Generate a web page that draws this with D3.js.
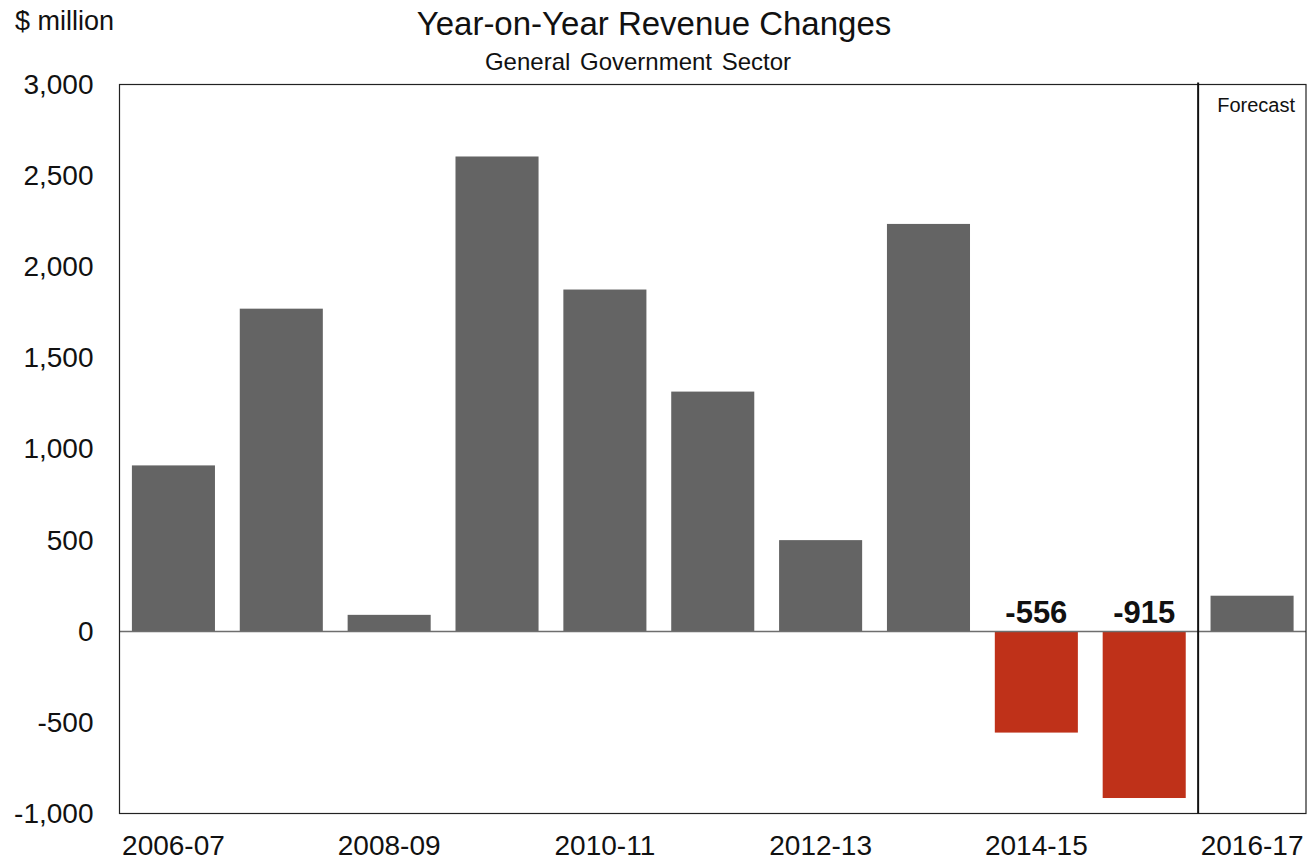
<!DOCTYPE html>
<html>
<head>
<meta charset="utf-8">
<script src="https://cdn.jsdelivr.net/npm/d3@7/dist/d3.min.js"></script>
<style>
  html, body { margin: 0; padding: 0; background: #fff; }
  svg { display: block; font-family: "Liberation Sans", Arial, sans-serif; }
</style>
</head>
<body>
<svg id="chart" width="1308" height="860"></svg>
<script>
// Financial years shown on the category axis
const years = ["2006-07", "2007-08", "2008-09", "2009-10", "2010-11", "2011-12",
               "2012-13", "2013-14", "2014-15", "2015-16", "2016-17"];
// Year-on-year change in revenue, $ million
const revenueChange = [910, 1770, 90, 2605, 1875, 1315, 500, 2235, -556, -915, 195];
// Years that carry a printed value label
const labelledYears = ["2014-15", "2015-16"];
// First forecast year
const forecastStart = "2016-17";
// Axis ticks
const yTicks = [-1000, -500, 0, 500, 1000, 1500, 2000, 2500, 3000];
const xTickLabels = ["2006-07", "2008-09", "2010-11", "2012-13", "2014-15", "2016-17"];

const data = years.map((y, i) => ({ year: y, value: revenueChange[i] }));

// Number formats using a plain hyphen for negatives
const locale = d3.formatLocale({ decimal: ".", thousands: ",", grouping: [3], currency: ["$", ""], minus: "-" });
const fmtComma = locale.format(",");
const fmtInt = locale.format("d");

const svg = d3.select("#chart");
const plot = { left: 119.5, right: 1306, top: 84.5, bottom: 813.5 };

const x = d3.scaleBand()
  .domain(years)
  .range([plot.left, plot.right])
  .paddingInner(0.23)
  .paddingOuter(0.115);

const y = d3.scaleLinear()
  .domain([-1000, 3000])
  .range([plot.bottom, plot.top]);

const grey = "#646464";
const red = "#bf3119";

// Bars
svg.append("g")
  .selectAll("rect")
  .data(data)
  .join("rect")
  .attr("x", d => x(d.year))
  .attr("width", x.bandwidth())
  .attr("y", d => y(Math.max(0, d.value)))
  .attr("height", d => Math.abs(y(d.value) - y(0)))
  .attr("fill", d => d.value < 0 ? red : grey);

// Zero line
svg.append("line")
  .attr("x1", plot.left).attr("x2", plot.right)
  .attr("y1", Math.round(y(0)) + 0.5).attr("y2", Math.round(y(0)) + 0.5)
  .attr("stroke", "#6e6e6e").attr("stroke-width", 1.5);

// Plot frame
svg.append("rect")
  .attr("x", plot.left).attr("y", plot.top)
  .attr("width", plot.right - plot.left)
  .attr("height", plot.bottom - plot.top)
  .attr("fill", "none").attr("stroke", "#222").attr("stroke-width", 1.2);

// Forecast divider
const fx = x(forecastStart) - x.step() * x.paddingInner() / 2;
svg.append("line")
  .attr("x1", fx).attr("x2", fx)
  .attr("y1", plot.top - 2).attr("y2", plot.bottom)
  .attr("stroke", "#111").attr("stroke-width", 2);

svg.append("text")
  .attr("x", plot.right - 11).attr("y", 112)
  .attr("text-anchor", "end")
  .attr("font-size", 20)
  .attr("fill", "#111")
  .text("Forecast");

// Y axis labels
const yAxis = d3.axisLeft(y)
  .tickValues(yTicks)
  .tickSize(0)
  .tickPadding(26)
  .tickFormat(fmtComma);
const gy = svg.append("g")
  .attr("transform", `translate(${plot.left},0)`)
  .call(yAxis);
gy.select(".domain").remove();
gy.selectAll("text")
  .attr("font-size", 28)
  .attr("font-family", "Liberation Sans, Arial, sans-serif")
  .attr("fill", "#111");

// X axis labels
const xAxis = d3.axisBottom(x)
  .tickValues(xTickLabels)
  .tickSize(0)
  .tickPadding(22);
const gx = svg.append("g")
  .attr("transform", `translate(0,${plot.bottom})`)
  .call(xAxis);
gx.select(".domain").remove();
gx.selectAll("text")
  .attr("font-size", 28)
  .attr("font-family", "Liberation Sans, Arial, sans-serif")
  .attr("fill", "#111");

// Value labels above the zero line
svg.append("g")
  .selectAll("text")
  .data(data.filter(d => labelledYears.includes(d.year)))
  .join("text")
  .attr("x", d => x(d.year) + x.bandwidth() / 2)
  .attr("y", y(0) - 8)
  .attr("text-anchor", "middle")
  .attr("font-size", 31)
  .attr("font-weight", "bold")
  .attr("fill", "#111")
  .text(d => fmtInt(d.value));

// Titles
svg.append("text")
  .attr("x", 654).attr("y", 35)
  .attr("text-anchor", "middle")
  .attr("font-size", 33)
  .attr("fill", "#111")
  .text("Year-on-Year Revenue Changes");

svg.append("text")
  .attr("x", 638).attr("y", 70)
  .attr("text-anchor", "middle")
  .attr("font-size", 24)
  .attr("word-spacing", 3)
  .attr("fill", "#111")
  .text("General Government Sector");

svg.append("text")
  .attr("x", 15).attr("y", 30)
  .attr("font-size", 27)
  .attr("fill", "#111")
  .text("$ million");
</script>
</body>
</html>
